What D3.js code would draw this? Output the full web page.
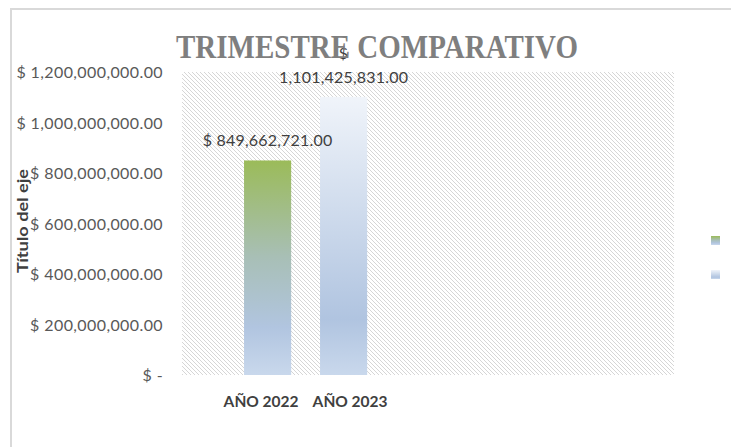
<!DOCTYPE html>
<html>
<head>
<meta charset="utf-8">
<script src="https://cdn.jsdelivr.net/npm/d3@7/dist/d3.min.js"></script>
<style>
  html, body { margin: 0; padding: 0; background: #fff; }
  svg { display: block; }
</style>
</head>
<body>
<div id="chart"></div>
<script>
// datos
const categorias = ["AÑO 2022", "AÑO 2023"];
const valores = [849662721.00, 1101425831.00];
const ticksY = [0, 200000000, 400000000, 600000000, 800000000, 1000000000, 1200000000];
const titulo = "TRIMESTRE COMPARATIVO";
const tituloEje = "Título del eje";

const W = 731, H = 447;
// zona del grafico
const plot = { left: 182, right: 674, top: 72, bottom: 375 };
const fuente = "Lato, 'Open Sans', sans-serif";

const svg = d3.select("#chart").append("svg")
  .attr("width", W).attr("height", H);

const defs = svg.append("defs");

// trama diagonal del fondo
const pat = defs.append("pattern")
  .attr("id", "trama")
  .attr("patternUnits", "userSpaceOnUse")
  .attr("width", 4).attr("height", 4);
pat.append("rect").attr("width", 4).attr("height", 4).attr("fill", "#fff");
pat.append("path")
  .attr("d", "M-1,-1 L5,5 M-1,3 L1,5 M3,-1 L5,1")
  .attr("stroke", "#d6d6d6").attr("stroke-width", 1);

// degradados de las barras
const grad1 = defs.append("linearGradient")
  .attr("id", "g1").attr("x1", 0).attr("y1", 0).attr("x2", 0).attr("y2", 1);
grad1.append("stop").attr("offset", "0%").attr("stop-color", "#9bbb59");
grad1.append("stop").attr("offset", "45%").attr("stop-color", "#a8bfb6");
grad1.append("stop").attr("offset", "78%").attr("stop-color", "#b1c5e0");
grad1.append("stop").attr("offset", "100%").attr("stop-color", "#c9d8ec");

const grad2 = defs.append("linearGradient")
  .attr("id", "g2").attr("x1", 0).attr("y1", 0).attr("x2", 0).attr("y2", 1);
grad2.append("stop").attr("offset", "0%").attr("stop-color", "#f0f4fa");
grad2.append("stop").attr("offset", "80%").attr("stop-color", "#b0c4e0");
grad2.append("stop").attr("offset", "100%").attr("stop-color", "#c9d8ec");

const fills = ["url(#g1)", "url(#g2)"];

// marco del grafico
svg.append("path")
  .attr("d", `M11,${H} L11,9 L${W},9`)
  .attr("fill", "none").attr("stroke", "#d9d9d9").attr("stroke-width", 2);

// area con trama
svg.append("rect")
  .attr("x", plot.left).attr("y", plot.top)
  .attr("width", plot.right - plot.left).attr("height", plot.bottom - plot.top)
  .attr("fill", "url(#trama)");

// escalas
const y = d3.scaleLinear()
  .domain([0, 1200000000])
  .range([plot.bottom, plot.top]);

const x = d3.scaleBand()
  .domain(categorias)
  .range([229.6, 381.6])
  .paddingInner(0.38)
  .paddingOuter(0.19);

const fmt = d3.format(",.2f");
const etiquetaY = v => v === 0 ? "$ -" : "$ " + fmt(v);

// eje Y
const ejeY = svg.append("g")
  .attr("transform", "translate(" + (plot.left - 19) + ",0)")
  .call(d3.axisLeft(y).tickValues(ticksY).tickFormat(etiquetaY).tickSize(0).tickPadding(0));
ejeY.select(".domain").remove();
ejeY.selectAll("text")
  .attr("font-family", fuente)
  .attr("font-size", 16)
  .attr("letter-spacing", 0.4)
  .attr("fill", "#595959")
  .attr("dy", "0.35em");

// eje X
const ejeX = svg.append("g")
  .attr("transform", "translate(0," + plot.bottom + ")")
  .call(d3.axisBottom(x).tickSize(0).tickPadding(21));
ejeX.select(".domain").remove();
ejeX.selectAll("text")
  .attr("font-family", fuente)
  .attr("font-weight", "bold")
  .attr("font-size", 15.5)
  .attr("fill", "#404040")
  .attr("dx", (d, i) => i === 0 ? -6.5 : 6.5);

// barras
svg.append("g").selectAll("rect")
  .data(valores)
  .enter()
  .append("rect")
    .attr("x", (d, i) => x(categorias[i]))
    .attr("y", d => y(d))
    .attr("width", x.bandwidth())
    .attr("height", d => y(0) - y(d))
    .attr("fill", (d, i) => fills[i]);

// etiquetas de datos
const lbl = svg.append("g")
  .attr("font-family", fuente)
  .attr("font-size", 16)
  .attr("letter-spacing", 0.2)
  .attr("fill", "#404040")
  .attr("text-anchor", "middle");

// primera barra: una linea
lbl.append("text")
  .attr("x", x(categorias[0]) + x.bandwidth() / 2)
  .attr("y", y(valores[0]) - 14)
  .text("$ " + fmt(valores[0]));

// segunda barra: etiqueta partida en dos lineas
const cx2 = x(categorias[1]) + x.bandwidth() / 2;
const t2 = lbl.append("text")
  .attr("x", cx2)
  .attr("y", y(valores[1]) - 38);
t2.append("tspan").attr("x", cx2).text("$");
t2.append("tspan").attr("x", cx2).attr("dy", 24).text(fmt(valores[1]));

// titulo
svg.append("text")
  .attr("x", 377).attr("y", 58)
  .attr("text-anchor", "middle")
  .attr("font-family", "'Liberation Serif', serif")
  .attr("font-weight", "bold")
  .attr("font-size", 34)
  .attr("fill", "#7f7f7f")
  .attr("textLength", 402)
  .attr("lengthAdjust", "spacingAndGlyphs")
  .text(titulo);

// titulo del eje
svg.append("text")
  .attr("transform", "translate(28,221) rotate(-90)")
  .attr("text-anchor", "middle")
  .attr("font-family", fuente)
  .attr("font-weight", "bold")
  .attr("font-size", 14.5)
  .attr("fill", "#404040")
  .attr("textLength", 104)
  .attr("lengthAdjust", "spacingAndGlyphs")
  .text(tituloEje);

// leyenda (sin texto)
svg.append("g").selectAll("rect")
  .data(categorias)
  .enter()
  .append("rect")
    .attr("x", 711)
    .attr("y", (d, i) => 236 + i * 34)
    .attr("width", 9).attr("height", 9)
    .attr("fill", (d, i) => fills[i]);
</script>
</body>
</html>
